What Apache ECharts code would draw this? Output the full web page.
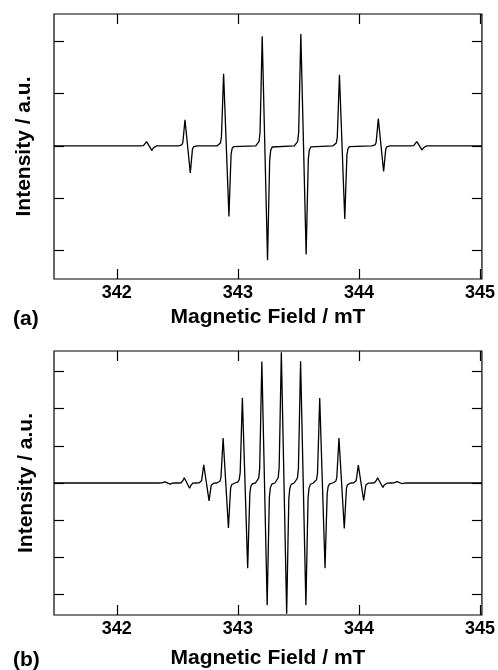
<!DOCTYPE html>
<html>
<head>
<meta charset="utf-8">
<script src="https://cdn.jsdelivr.net/npm/echarts@6/dist/echarts.min.js"></script>
<style>
html,body{margin:0;padding:0;background:#fff;}
#c{width:498px;height:670px;}
</style>
</head>
<body>
<div id="c"></div>
<script>
// Panel (a): line centres (mT), positive and negative extrema (a.u.)
const fieldA = [342.268, 342.585, 342.904, 343.223, 343.542, 343.861, 344.182, 344.500];
const maxA   = [0.08, 0.50, 1.38, 2.10, 2.14, 1.36, 0.52, 0.08];
const minA   = [-0.09, -0.52, -1.35, -2.19, -2.08, -1.40, -0.49, -0.08];

// Panel (b)
const fieldB = [342.419, 342.579, 342.740, 342.900, 343.059, 343.220, 343.381, 343.540, 343.698, 343.857, 344.017, 344.176, 344.337];
const maxB   = [0.03, 0.14, 0.49, 1.21, 2.29, 3.26, 3.51, 3.27, 2.28, 1.21, 0.48, 0.14, 0.035];
const minB   = [-0.03, -0.14, -0.48, -1.21, -2.29, -3.28, -3.51, -3.28, -2.29, -1.22, -0.47, -0.12, -0.02];

// Line shape: offset from line centre (mT) and relative height
const shapeOffset = [-0.075, -0.06, -0.048, -0.04, -0.033, -0.022, 0.022, 0.033, 0.04, 0.048, 0.06, 0.075];
const shapeValue  = [0, 0.01, 0.04, 0.12, 0.45, 1, -1, -0.45, -0.12, -0.04, -0.01, 0];

// Axis ranges and ticks
const xMin = 341.481, xMax = 345.016;
const xTicks = [342, 343, 344, 345];
const yRangeA = [-2.549, 2.524];
const yTicksA = [-2, -1, 0, 1, 2];
const yRangeB = [-3.545, 3.545];
const yTicksB = [-3, -2, -1, 0, 1, 2, 3];

const xTitle = 'Magnetic Field / mT';
const yTitle = 'Intensity / a.u.';
const panelLabels = ['(a)', '(b)'];

function buildSpectrum(centres, maxs, mins) {
  const pts = [[xMin, 0]];
  centres.forEach((c, i) => {
    shapeOffset.forEach((o, j) => {
      const s = shapeValue[j];
      pts.push([c + o, s >= 0 ? s * maxs[i] : -s * mins[i]]);
    });
  });
  pts.push([xMax, 0]);
  return pts;
}

const FONT = '"Liberation Sans", Arial, Helvetica, sans-serif';
const black = '#000';

function xAxes(gridIndex, nameGap) {
  return [{
    type: 'value', gridIndex, min: xMin, max: xMax, position: 'bottom',
    name: xTitle, nameLocation: 'middle', nameGap,
    nameTextStyle: {fontFamily: FONT, fontWeight: 'bold', fontSize: 21, color: black},
    axisLine: {show: false, onZero: false},
    axisTick: {show: true, inside: true, length: 10, customValues: xTicks, lineStyle: {color: black, width: 1.2}},
    axisLabel: {show: true, customValues: xTicks, margin: 5, fontFamily: FONT, fontWeight: 'bold', fontSize: 18, color: black,
      formatter: v => String(Math.round(v))},
    splitLine: {show: false}
  }, {
    type: 'value', gridIndex, min: xMin, max: xMax, position: 'top',
    axisLine: {show: false, onZero: false},
    axisTick: {show: true, inside: true, length: 10, customValues: xTicks, lineStyle: {color: black, width: 1.2}},
    axisLabel: {show: false},
    splitLine: {show: false}
  }];
}
function yAxes(gridIndex, range, ticks, nameGap) {
  return [{
    type: 'value', gridIndex, min: range[0], max: range[1], position: 'left',
    name: yTitle, nameLocation: 'middle', nameGap,
    nameTextStyle: {fontFamily: FONT, fontWeight: 'bold', fontSize: 21, color: black},
    axisLine: {show: false, onZero: false},
    axisTick: {show: true, inside: true, length: 10, customValues: ticks, lineStyle: {color: black, width: 1.2}},
    axisLabel: {show: false},
    splitLine: {show: false}
  }, {
    type: 'value', gridIndex, min: range[0], max: range[1], position: 'right',
    axisLine: {show: false, onZero: false},
    axisTick: {show: true, inside: true, length: 10, customValues: ticks, lineStyle: {color: black, width: 1.2}},
    axisLabel: {show: false},
    splitLine: {show: false}
  }];
}

const chart = echarts.init(document.getElementById('c'), null, {renderer: 'canvas'});
chart.setOption({
  animation: false,
  backgroundColor: '#fff',
  grid: [
    {left: 54, top: 14, width: 429, height: 265, show: true, borderColor: black, borderWidth: 1.2, backgroundColor: 'transparent'},
    {left: 54, top: 351, width: 428, height: 266, show: true, borderColor: black, borderWidth: 1.2, backgroundColor: 'transparent'}
  ],
  xAxis: [...xAxes(0, 28), ...xAxes(1, 33)],
  yAxis: [...yAxes(0, yRangeA, yTicksA, 19), ...yAxes(1, yRangeB, yTicksB, 17)],
  series: [
    {type: 'line', xAxisIndex: 0, yAxisIndex: 0, data: buildSpectrum(fieldA, maxA, minA),
     symbol: 'none', lineStyle: {color: black, width: 1.3}, clip: false},
    {type: 'line', xAxisIndex: 2, yAxisIndex: 2, data: buildSpectrum(fieldB, maxB, minB),
     symbol: 'none', lineStyle: {color: black, width: 1.3}, clip: false}
  ],
  graphic: [
    {type: 'text', left: 13, top: 309, style: {text: panelLabels[0], font: 'bold 21px ' + FONT, fill: black}},
    {type: 'text', left: 13, top: 650, style: {text: panelLabels[1], font: 'bold 21px ' + FONT, fill: black}}
  ]
});
</script>
</body>
</html>
